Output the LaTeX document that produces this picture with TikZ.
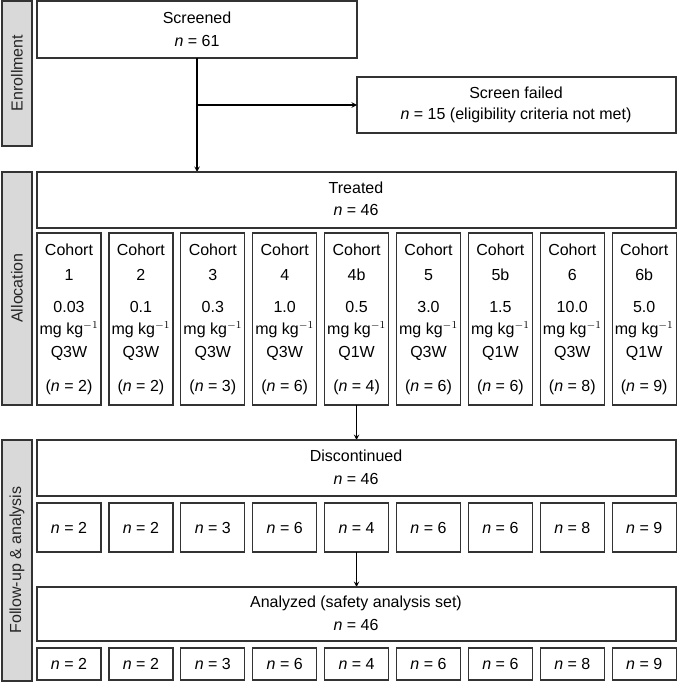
\documentclass[tikz,border=0pt]{standalone}
\usepackage{fontspec}
\setmainfont{Liberation Sans}
\begin{document}
\begin{tikzpicture}[x=0.75pt,y=-0.75pt,
  box/.style={draw=black!80,line width=1pt},
  side/.style={draw=black!80,line width=1pt,fill=black!15},
  t/.style={font=\fontsize{12}{14}\selectfont,inner sep=0pt},
  st/.style={font=\fontsize{12}{14}\selectfont,inner sep=0pt,rotate=90,text=black!85},
  arr/.style={->,>=stealth,line width=0.8pt}]
\useasboundingbox (0,0) rectangle (678,685);
% side bars
\draw[side] (2,1) rectangle (32,146); \node[st] (sl1) at (17,73) {Enrollment};
\draw[side] (2,172) rectangle (32,405); \node[st] (sl2) at (17,288) {Allocation};
\draw[side] (2,440) rectangle (32,681); \node[st] (sl3) at (17,560) {Follow-up \& analysis};
% enrollment
\draw[box] (37,1) rectangle (357,58);
\node[t] (scr) at (197,18) {Screened};
\node[t] at (197,41) {\emph{n} = 61};
\coordinate (scrb) at (197,58);
\draw[box] (357,77) rectangle (676,133);
\node[t] at (516,93) {Screen failed};
\node[t] at (516,115) {\emph{n} = 15 (eligibility criteria not met)};
\coordinate (sfl) at (357,105);
\coordinate (br) at (197,105);
\coordinate (trt) at (197,172);
\draw[line width=0.8pt] (scrb) -- (br);
\draw[arr] (br) -- (sfl);
\draw[arr] (br) -- (trt);
% treated
\draw[box] (37,172) rectangle (676,228);
\node[t] at (356,188) {Treated};
\node[t] at (356,210) {\emph{n} = 46};
\def\names{{"1","2","3","4","4b","5","5b","6","6b"}}
\def\doses{{"0.03","0.1","0.3","1.0","0.5","3.0","1.5","10.0","5.0"}}
\def\qs{{"Q3W","Q3W","Q3W","Q3W","Q1W","Q3W","Q1W","Q3W","Q1W"}}
\def\ns{{2,2,3,6,4,6,6,8,9}}
\foreach \i in {0,...,8}{
  \pgfmathsetmacro{\xl}{37+\i*71.9}
  \pgfmathsetmacro{\xc}{\xl+32}
  \pgfmathsetmacro{\nm}{\names[\i]}
  \pgfmathsetmacro{\ds}{\doses[\i]}
  \pgfmathsetmacro{\qq}{\qs[\i]}
  \pgfmathtruncatemacro{\nn}{\ns[\i]}
  \draw[box] (\xl,233) rectangle (\xl+64,405);
  \node[t] (c\i) at (\xc,250) {Cohort};
  \node[t] at (\xc,275) {\nm};
  \node[t] at (\xc,307) {\ds};
  \node[t] at (\xc,330) {mg kg$^{-1}$};
  \node[t] at (\xc,353) {\qq};
  \node[t] at (\xc,387) {(\emph{n} = \nn)};
  \draw[box] (\xl,503) rectangle (\xl+64,552);
  \node[t] at (\xc,528) {\emph{n} = \nn};
  \draw[box] (\xl,648) rectangle (\xl+64,680);
  \node[t] at (\xc,664) {\emph{n} = \nn};
}
\coordinate (c4b) at (356.6,405);
\coordinate (dt) at (356.6,440);
\draw[arr] (c4b) -- (dt);
\draw[box] (37,440) rectangle (676,496);
\node[t] at (356,456) {Discontinued};
\node[t] at (356,479) {\emph{n} = 46};
\coordinate (d4b) at (356.6,552);
\coordinate (at) at (356.6,587);
\draw[arr] (d4b) -- (at);
\draw[box] (37,587) rectangle (676,641);
\node[t] at (356,603) {Analyzed (safety analysis set)};
\node[t] at (356,625) {\emph{n} = 46};
\end{tikzpicture}
\end{document}
